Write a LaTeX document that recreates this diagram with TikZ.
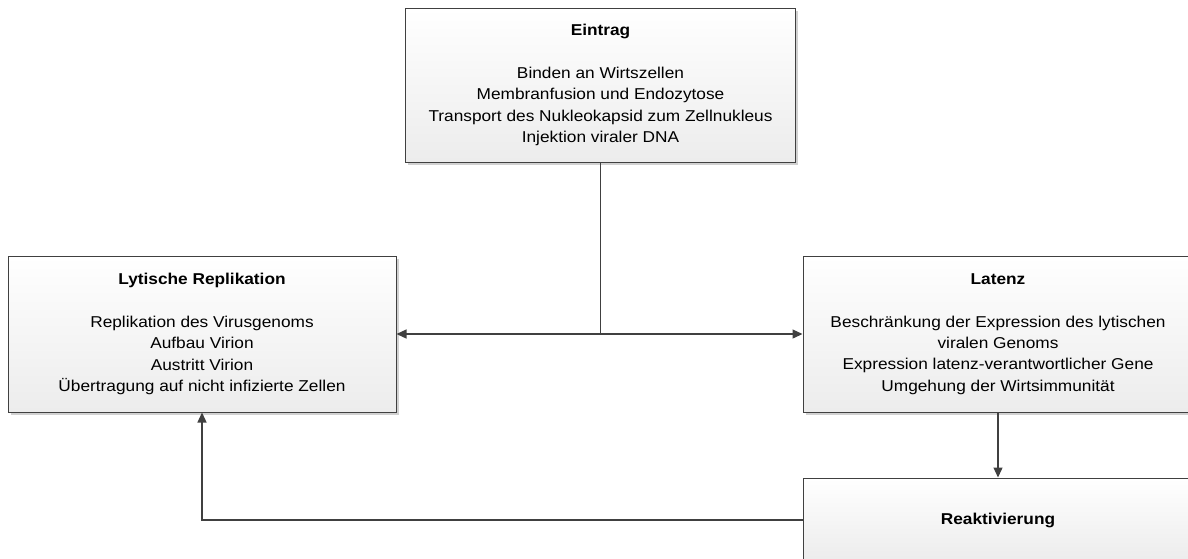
\documentclass[tikz,border=0pt]{standalone}
\usepackage{fontspec}
\setmainfont{Liberation Sans}[FakeStretch=1.1]
\usetikzlibrary{arrows.meta,shadows}
\definecolor{edge}{HTML}{404040}
\definecolor{boxbot}{HTML}{ECECEC}
\begin{document}
\begin{tikzpicture}[x=1pt,y=-1pt,
  box/.style={draw=edge,line width=1pt,rectangle,top color=white,bottom color=boxbot,
    drop shadow={shadow xshift=2.5pt,shadow yshift=-2.5pt,fill=black,opacity=0.18},
    align=center,font=\fontsize{15.7}{21.3}\selectfont,inner sep=0pt},
  conn/.style={draw=edge,line width=1.3pt},
  tip/.style={-{Triangle[length=10pt,width=9pt]}}]
\useasboundingbox (0,0) rectangle (1188,558);
\clip (0,0) rectangle (1188,558);
\node[box,minimum width=390pt,minimum height=154pt] (ein) at (600.5,85)
  {\textbf{Eintrag}\\[21.3pt]Binden an Wirtszellen\\Membranfusion und Endozytose\\Transport des Nukleokapsid zum Zellnukleus\\Injektion viraler DNA};
\node[box,minimum width=388pt,minimum height=156pt] (lyt) at (202,334)
  {\textbf{Lytische Replikation}\\[21.3pt]Replikation des Virusgenoms\\Aufbau Virion\\Austritt Virion\\Übertragung auf nicht infizierte Zellen};
\node[box,minimum width=390pt,minimum height=156pt] (lat) at (998,334)
  {\textbf{Latenz}\\[21.3pt]Beschränkung der Expression des lytischen\\viralen Genoms\\Expression latenz-verantwortlicher Gene\\Umgehung der Wirtsimmunität};
\node[box,minimum width=390pt,minimum height=84pt] (rea) at (998,520)
  {\textbf{Reaktivierung}};
\coordinate (j) at (ein.south |- lyt.east);
\draw[conn] (ein.south) -- (j);
\draw[conn,tip] (j) -- (lyt.east);
\draw[conn,tip] (j) -- (lat.west);
\draw[conn,tip] (lat.south) -- (rea.north);
\draw[conn,tip] (rea.west) -| (lyt.south);
\end{tikzpicture}
\end{document}
